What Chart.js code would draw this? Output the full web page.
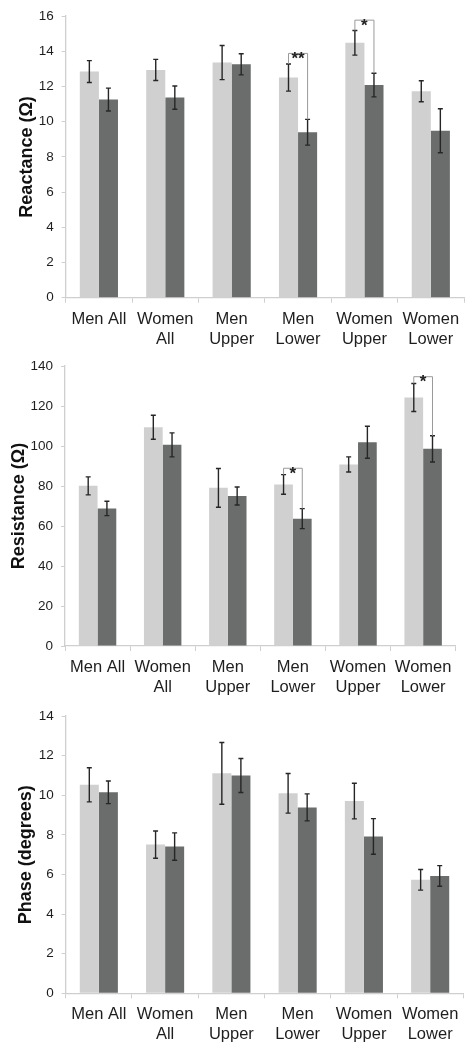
<!DOCTYPE html>
<html>
<head>
<meta charset="utf-8">
<script src="https://cdn.jsdelivr.net/npm/chart.js@4/dist/chart.umd.min.js"></script>
<style>
  html, body { margin: 0; padding: 0; background: #ffffff; }
  body { width: 472px; height: 1050px; position: relative; overflow: hidden; }
  canvas { position: absolute; left: 0; }
</style>
</head>
<body>
<canvas id="c1" width="472" height="350" style="top:0px"></canvas>
<canvas id="c2" width="472" height="350" style="top:350px"></canvas>
<canvas id="c3" width="472" height="350" style="top:700px"></canvas>
<script>
// ---- Data ----
const categories = [["Men All"], ["Women", "All"], ["Men", "Upper"], ["Men", "Lower"], ["Women", "Upper"], ["Women", "Lower"]];

const reactanceLight = [12.85, 12.94, 13.36, 12.51, 14.48, 11.73];
const reactanceLightErr = [0.62, 0.60, 0.97, 0.77, 0.70, 0.60];
const reactanceDark = [11.26, 11.37, 13.26, 9.40, 12.08, 9.49];
const reactanceDarkErr = [0.65, 0.66, 0.60, 0.73, 0.67, 1.25];
const reactanceBrackets = [{ cat: 3, y: 13.88, label: "**" }, { cat: 4, y: 15.77, label: "*" }];

const resistanceLight = [80.1, 109.4, 79.1, 80.8, 90.8, 124.3];
const resistanceLightErr = [4.5, 6.0, 9.7, 4.9, 3.8, 7.0];
const resistanceDark = [68.8, 100.6, 75.0, 63.7, 101.9, 98.6];
const resistanceDarkErr = [3.6, 6.0, 4.5, 5.0, 8.0, 6.6];
const resistanceBrackets = [{ cat: 3, y: 88.9, label: "*" }, { cat: 5, y: 134.7, label: "*" }];

const phaseLight = [10.53, 7.51, 11.11, 10.10, 9.71, 5.73];
const phaseLightErr = [0.86, 0.69, 1.56, 1.00, 0.90, 0.52];
const phaseDark = [10.15, 7.41, 11.00, 9.39, 7.92, 5.93];
const phaseDarkErr = [0.57, 0.69, 0.86, 0.68, 0.90, 0.52];
const phaseBrackets = [];

const reactanceTicks = { max: 16, step: 2 };
const resistanceTicks = { max: 140, step: 20 };
const phaseTicks = { max: 14, step: 2 };

// ---- Styling ----
const FONT = "'Liberation Sans', Arial, Helvetica, sans-serif";
const LIGHT = "#cfd0cf";
const DARK = "#6a6d6c";
const AXIS = "#cfcfcf";
const TEXT = "#1e1e1e";

const errorBarPlugin = {
  id: "errorBars",
  afterDatasetsDraw(chart) {
    const ctx = chart.ctx;
    const ys = chart.scales.y;
    ctx.save();
    ctx.strokeStyle = "#262626";
    ctx.lineWidth = 1.4;
    chart.data.datasets.forEach((ds, i) => {
      const meta = chart.getDatasetMeta(i);
      meta.data.forEach((el, j) => {
        const v = ds.data[j], e = ds.errors[j];
        const yt = ys.getPixelForValue(v + e);
        const yb = ys.getPixelForValue(v - e);
        const x = el.x;
        ctx.beginPath();
        ctx.moveTo(x, yt); ctx.lineTo(x, yb);
        ctx.moveTo(x - 2.5, yt); ctx.lineTo(x + 2.5, yt);
        ctx.moveTo(x - 2.5, yb); ctx.lineTo(x + 2.5, yb);
        ctx.stroke();
      });
    });
    // significance brackets
    const brackets = chart.options.plugins.errorBars.brackets || [];
    const d0 = chart.data.datasets[0], d1 = chart.data.datasets[1];
    const m0 = chart.getDatasetMeta(0), m1 = chart.getDatasetMeta(1);
    brackets.forEach(b => {
      const x0 = m0.data[b.cat].x, x1 = m1.data[b.cat].x;
      const yb = ys.getPixelForValue(b.y);
      const y0 = ys.getPixelForValue(d0.data[b.cat] + d0.errors[b.cat]);
      const y1 = ys.getPixelForValue(d1.data[b.cat] + d1.errors[b.cat]);
      ctx.strokeStyle = "#9a9a9a";
      ctx.lineWidth = 1;
      ctx.beginPath();
      ctx.moveTo(x0, y0); ctx.lineTo(x0, yb); ctx.lineTo(x1, yb); ctx.lineTo(x1, y1);
      ctx.stroke();
      const fs = 17;
      ctx.font = "bold " + fs + "px " + FONT;
      ctx.fillStyle = "#222";
      ctx.textAlign = "center";
      ctx.textBaseline = "alphabetic";
      ctx.fillText(b.label, (x0 + x1) / 2, yb + 0.62 * fs);
    });
    ctx.restore();
  }
};

function makeChart(id, title, light, lightErr, dark, darkErr, ticks, brackets, box) {
  const H = 350;
  return new Chart(document.getElementById(id), {
    type: "bar",
    data: {
      labels: categories,
      datasets: [
        { data: light, errors: lightErr, backgroundColor: LIGHT, borderWidth: 0 },
        { data: dark, errors: darkErr, backgroundColor: DARK, borderWidth: 0 }
      ]
    },
    plugins: [errorBarPlugin],
    options: {
      responsive: false,
      animation: false,
      devicePixelRatio: 1,
      layout: { padding: { left: 0, top: box.top, right: 472 - box.right, bottom: 0 } },
      datasets: { bar: { barPercentage: 1.0, categoryPercentage: 0.575 } },
      plugins: {
        legend: { display: false },
        tooltip: { enabled: false },
        errorBars: { brackets: brackets }
      },
      scales: {
        x: {
          grid: { display: true, drawOnChartArea: false, drawTicks: true, tickLength: 5, color: AXIS, offset: true },
          border: { display: true, color: AXIS, width: 1.3 },
          ticks: { color: TEXT, font: { family: FONT, size: 16.5, lineHeight: "20px" }, padding: 6.5, maxRotation: 0, autoSkip: false },
          afterFit(s) { s.height = H - box.bottom; }
        },
        y: {
          min: 0, max: ticks.max,
          grid: { display: true, drawOnChartArea: false, drawTicks: true, tickLength: 4, color: AXIS },
          border: { display: true, color: AXIS, width: 1.3 },
          ticks: { stepSize: ticks.step, color: TEXT, font: { family: FONT, size: 13.5 }, padding: 8 },
          title: { display: true, text: title, color: "#111", font: { family: FONT, size: 18, weight: "bold" }, padding: { top: box.titlePad, bottom: 0 } },
          afterFit(s) { s.width = box.left; }
        }
      }
    }
  });
}

makeChart("c1", "Reactance (Ω)", reactanceLight, reactanceLightErr, reactanceDark, reactanceDarkErr, reactanceTicks, reactanceBrackets,
  { left: 65.7, top: 13.3, right: 464, bottom: 297.7, titlePad: 16 });
makeChart("c2", "Resistance (Ω)", resistanceLight, resistanceLightErr, resistanceDark, resistanceDarkErr, resistanceTicks, resistanceBrackets,
  { left: 65, top: 14, right: 455.7, bottom: 296, titlePad: 8 });
makeChart("c3", "Phase (degrees)", phaseLight, phaseLightErr, phaseDark, phaseDarkErr, phaseTicks, phaseBrackets,
  { left: 65.7, top: 10.7, right: 463.3, bottom: 293.3, titlePad: 15.5 });
</script>
</body>
</html>
